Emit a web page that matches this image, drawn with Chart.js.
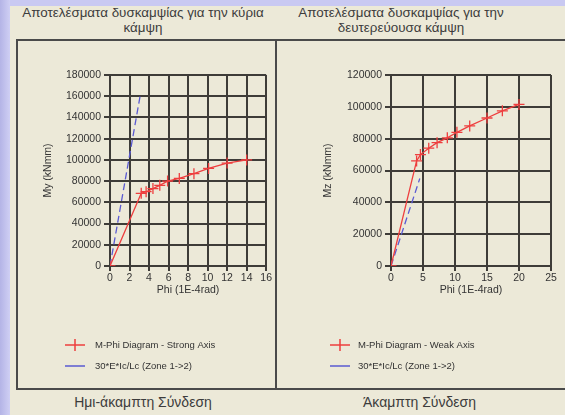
<!DOCTYPE html>
<html><head><meta charset="utf-8">
<script src="https://cdn.jsdelivr.net/npm/chart.js@4.4.1/dist/chart.umd.min.js"></script>
<style>
html,body{margin:0;padding:0;}
body{width:565px;height:415px;background:#ECE9D8;position:relative;overflow:hidden;font-family:"Liberation Sans",Arial,sans-serif;}
#topstrip{position:absolute;left:0;top:0;width:565px;height:6px;background:#c9c9f2;}
#leftstrip{position:absolute;left:0;top:0;width:10px;height:415px;background:linear-gradient(to right,#b4b4e6,#cfcff4);}
.title{position:absolute;top:5px;font-size:13.4px;color:#3c3c3c;text-align:center;line-height:15px;white-space:nowrap;}
.foot{position:absolute;top:394px;font-size:14px;color:#3c3c3c;text-align:center;white-space:nowrap;}
.panel{position:absolute;top:39px;height:351px;border:2px solid #4a4a4a;box-sizing:border-box;}
canvas{position:absolute;}
</style></head>
<body>
<div id="topstrip"></div><div id="leftstrip"></div>
<div class="title" style="left:12px;width:262px;">Αποτελέσματα δυσκαμψίας για την κύρια<br>κάμψη</div>
<div class="title" style="left:280px;width:242px;">Αποτελέσματα δυσκαμψίας για την<br>δευτερεύουσα κάμψη</div>
<div class="panel" style="left:16px;width:261px;"></div>
<div class="panel" style="left:275px;width:300px;"></div>
<div class="foot" style="left:12px;width:262px;">Ημι-άκαμπτη Σύνδεση</div>
<div class="foot" style="left:282px;width:275px;">Άκαμπτη Σύνδεση</div>
<canvas id="c1" width="254" height="344" style="left:19px;top:42px;width:254px;height:344px;"></canvas>
<canvas id="c2" width="286" height="344" style="left:278px;top:42px;width:286px;height:344px;"></canvas>
<script>
// ---- data ----
const strongPhi = [0, 3.2, 3.7, 4.4, 5.1, 5.9, 7.1, 8.6, 10.1, 12.0, 14.0];
const strongM   = [0, 68500, 70000, 73000, 76000, 80000, 82500, 87000, 92000, 97000, 100000];
const strongLimPhi = [0, 3.1];
const strongLimM   = [0, 161000];
const weakPhi = [0, 4.0, 4.6, 5.9, 7.2, 8.8, 10.3, 12.3, 15.0, 17.4, 20.0];
const weakM   = [0, 66000, 70000, 74000, 77500, 80500, 84000, 88000, 93000, 97500, 101500];
const weakLimPhi = [0, 4.5];
const weakLimM   = [0, 55000];
const strongLabels = ["M-Phi Diagram - Strong Axis", "30*E*Ic/Lc (Zone 1->2)"];
const weakLabels   = ["M-Phi Diagram - Weak Axis", "30*E*Ic/Lc (Zone 1->2)"];
const xTitle = "Phi (1E-4rad)";
const yTitleStrong = "My (kNmm)";
const yTitleWeak = "Mz (kNmm)";

const RED = "#ee3e3e", BLUE = "#5a5ad2", GRID = "#3e3c38", TXT = "#333";
const FONT = '"Liberation Sans", Arial, sans-serif';
function pts(xs, ys){ return xs.map((x,i)=>({x:x, y:ys[i]})); }

function legendPlugin(markX, textX, rowY){
  return {
    id:'customLegend',
    afterDraw(chart){
      const ctx = chart.ctx;
      ctx.save();
      chart.data.datasets.forEach((ds,i)=>{
        const y = rowY[i];
        ctx.strokeStyle = ds.borderColor;
        ctx.lineWidth = 1.5;
        ctx.setLineDash([]);
        ctx.beginPath(); ctx.moveTo(markX, y); ctx.lineTo(markX+20, y); ctx.stroke();
        if (ds.pointStyle === 'cross'){
          ctx.beginPath(); ctx.moveTo(markX+10, y-6); ctx.lineTo(markX+10, y+6); ctx.stroke();
        }
        ctx.fillStyle = TXT;
        ctx.font = '9.5px ' + FONT;
        ctx.textBaseline = 'middle';
        ctx.fillText(ds.label, textX, y);
      });
      ctx.restore();
    }
  };
}

function makeChart(id, mainPts, limPts, labels, xMax, xStep, yMax, yStep, yTitle, yWidth, yTitlePad, padRight, markX, textX){
  return new Chart(document.getElementById(id), {
    type:'scatter',
    data:{datasets:[
      {label:labels[0], data:mainPts, showLine:true, borderColor:RED, backgroundColor:RED,
       borderWidth:1.3, pointStyle:'cross', pointRadius:5.5, pointBorderWidth:1.3, pointHoverRadius:5.5},
      {label:labels[1], data:limPts, showLine:true, borderColor:BLUE, backgroundColor:BLUE,
       borderWidth:1.3, borderDash:[7,4], pointRadius:0}
    ]},
    options:{
      responsive:false, animation:false, devicePixelRatio:1,
      layout:{padding:{top:33, right:padRight, bottom:86, left:0}},
      plugins:{legend:{display:false}, tooltip:{enabled:false}},
      scales:{
        x:{type:'linear', min:0, max:xMax,
           ticks:{stepSize:xStep, color:TXT, font:{size:10.5, family:FONT}, padding:1, maxRotation:0,
                  callback:(v)=>String(v)},
           grid:{color:GRID, lineWidth:2, tickLength:5},
           border:{color:GRID, width:2},
           title:{display:true, text:xTitle, color:TXT, font:{size:10.5, family:FONT}, padding:{top:0,bottom:4}},
           afterFit(s){ s.height = 34; }},
        y:{type:'linear', min:0, max:yMax,
           ticks:{stepSize:yStep, color:TXT, font:{size:10.5, family:FONT}, padding:3,
                  callback:(v)=>String(v)},
           grid:{color:GRID, lineWidth:2, tickLength:6},
           border:{color:GRID, width:2},
           title:{display:true, text:yTitle, color:TXT, font:{size:10.5, family:FONT}, padding:{top:yTitlePad,bottom:0}},
           afterFit(s){ s.width = yWidth; }}
      }
    },
    plugins:[legendPlugin(markX, textX, [303, 324])]
  });
}

makeChart('c1', pts(strongPhi, strongM), pts(strongLimPhi, strongLimM), strongLabels,
          16, 2, 180000, 20000, yTitleStrong, 91, 23, 5, 46, 76);
makeChart('c2', pts(weakPhi, weakM), pts(weakLimPhi, weakLimM), weakLabels,
          25, 5, 120000, 20000, yTitleWeak, 113, 44, 13, 52, 80);
</script>
</body></html>
